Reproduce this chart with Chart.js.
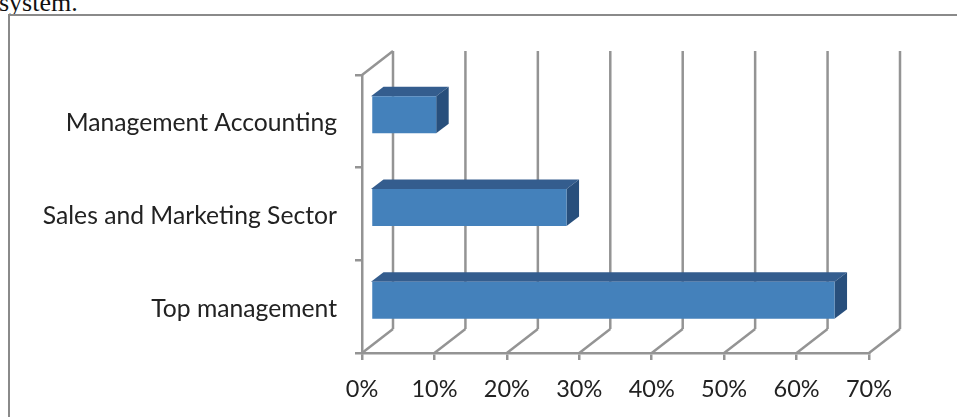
<!DOCTYPE html>
<html>
<head>
<meta charset="utf-8">
<script src="https://cdn.jsdelivr.net/npm/chart.js@4"></script>
<style>
    html, body { margin: 0; padding: 0; background: #fff; overflow: hidden; }
    #page { position: relative; width: 957px; height: 417px; overflow: hidden; }
    #caption { position: absolute; left: -1px; top: -12px; font: 26px "Liberation Serif", serif; color: #111; }
    #frame { position: absolute; left: 8px; top: 14px; width: 960px; height: 420px; border: 2px solid #8a8a8a; box-sizing: border-box; }
    canvas { position: absolute; left: 0; top: 0; }
</style>
</head>
<body>
<div id="page">
    <div id="caption">system.</div>
    <div id="frame"></div>
    <canvas id="chart" width="957" height="417"></canvas>
</div>
<script>
const categories = ["Management Accounting", "Sales and Marketing Sector", "Top management"];
const shares = [9, 27, 64];
const tickValues = [0, 10, 20, 30, 40, 50, 60, 70];

const gridColor = "#949494";
const frontColor = "#4481bb";
const topColor = "#345d8e";
const sideColor = "#284f7c";

// how far the back wall sits from the front plane
const wallX = 31, wallY = -24;
// how far the bars sit behind the front plane, and how deep they are
const barX = 9, barY = -6.5;
const depthX = 12.5, depthY = -9.5;

function line(ctx, x1, y1, x2, y2) {
    ctx.beginPath();
    ctx.moveTo(x1, y1);
    ctx.lineTo(x2, y2);
    ctx.stroke();
}

// Back wall and floor of the 3D box
const wallPlugin = {
    id: "wall",
    beforeDatasetsDraw(chart) {
        const { ctx, scales, chartArea } = chart;
        ctx.save();
        ctx.strokeStyle = gridColor;
        ctx.lineWidth = 2.5;
        tickValues.forEach(value => {
            const x = scales.x.getPixelForValue(value);
            line(ctx, x, chartArea.bottom, x + wallX, chartArea.bottom + wallY);
            line(ctx, x + wallX, chartArea.bottom + wallY, x + wallX, chartArea.top + wallY);
        });
        line(ctx, chartArea.left, chartArea.top, chartArea.left + wallX, chartArea.top + wallY);
        ctx.restore();
    }
};

// Top and side faces of the bars, front faces shifted back into the box
const barsPlugin = {
    id: "bars3d",
    beforeDatasetDraw(chart, args) {
        const { ctx } = chart;
        const base = chart.scales.x.getPixelForValue(0);
        chart.getDatasetMeta(args.index).data.forEach(bar => {
            const left = base + barX;
            const right = bar.x + barX;
            const top = bar.y - bar.height / 2 + barY;
            const bottom = bar.y + bar.height / 2 + barY;

            ctx.fillStyle = topColor;
            ctx.beginPath();
            ctx.moveTo(left, top);
            ctx.lineTo(left + depthX, top + depthY);
            ctx.lineTo(right + depthX, top + depthY);
            ctx.lineTo(right, top);
            ctx.closePath();
            ctx.fill();

            ctx.fillStyle = sideColor;
            ctx.beginPath();
            ctx.moveTo(right, top);
            ctx.lineTo(right + depthX, top + depthY);
            ctx.lineTo(right + depthX, bottom + depthY);
            ctx.lineTo(right, bottom);
            ctx.closePath();
            ctx.fill();
        });
        ctx.save();
        ctx.translate(barX, barY);
    },
    afterDatasetDraw(chart) {
        chart.ctx.restore();
    }
};

new Chart(document.getElementById("chart"), {
    type: "bar",
    data: {
        labels: categories,
        datasets: [{
            data: shares,
            backgroundColor: frontColor,
            borderWidth: 0,
            categoryPercentage: 1,
            barPercentage: 0.4
        }]
    },
    options: {
        indexAxis: "y",
        responsive: false,
        animation: false,
        layout: { padding: { top: 75, right: 88, bottom: 0, left: 0 } },
        plugins: { legend: { display: false }, tooltip: { enabled: false } },
        scales: {
            x: {
                min: 0,
                max: 70,
                afterFit(scale) { scale.height = 64; },
                afterBuildTicks(scale) { scale.ticks = tickValues.map(value => ({ value })); },
                border: { color: gridColor, width: 2.5 },
                grid: { drawOnChartArea: false, color: gridColor, lineWidth: 2.5, tickLength: 7 },
                ticks: {
                    color: "#222",
                    font: { family: "Lato", size: 23.5 },
                    padding: 15,
                    maxRotation: 0,
                    callback: value => value + "%"
                }
            },
            y: {
                afterFit(scale) { scale.width = 362; },
                border: { color: gridColor, width: 2.5 },
                grid: { drawOnChartArea: false, color: gridColor, lineWidth: 2.5, tickLength: 7 },
                ticks: {
                    color: "#222",
                    font: { family: "Lato", size: 24.7 },
                    padding: 18,
                    labelOffset: 2
                }
            }
        }
    },
    plugins: [wallPlugin, barsPlugin]
});
</script>
</body>
</html>
